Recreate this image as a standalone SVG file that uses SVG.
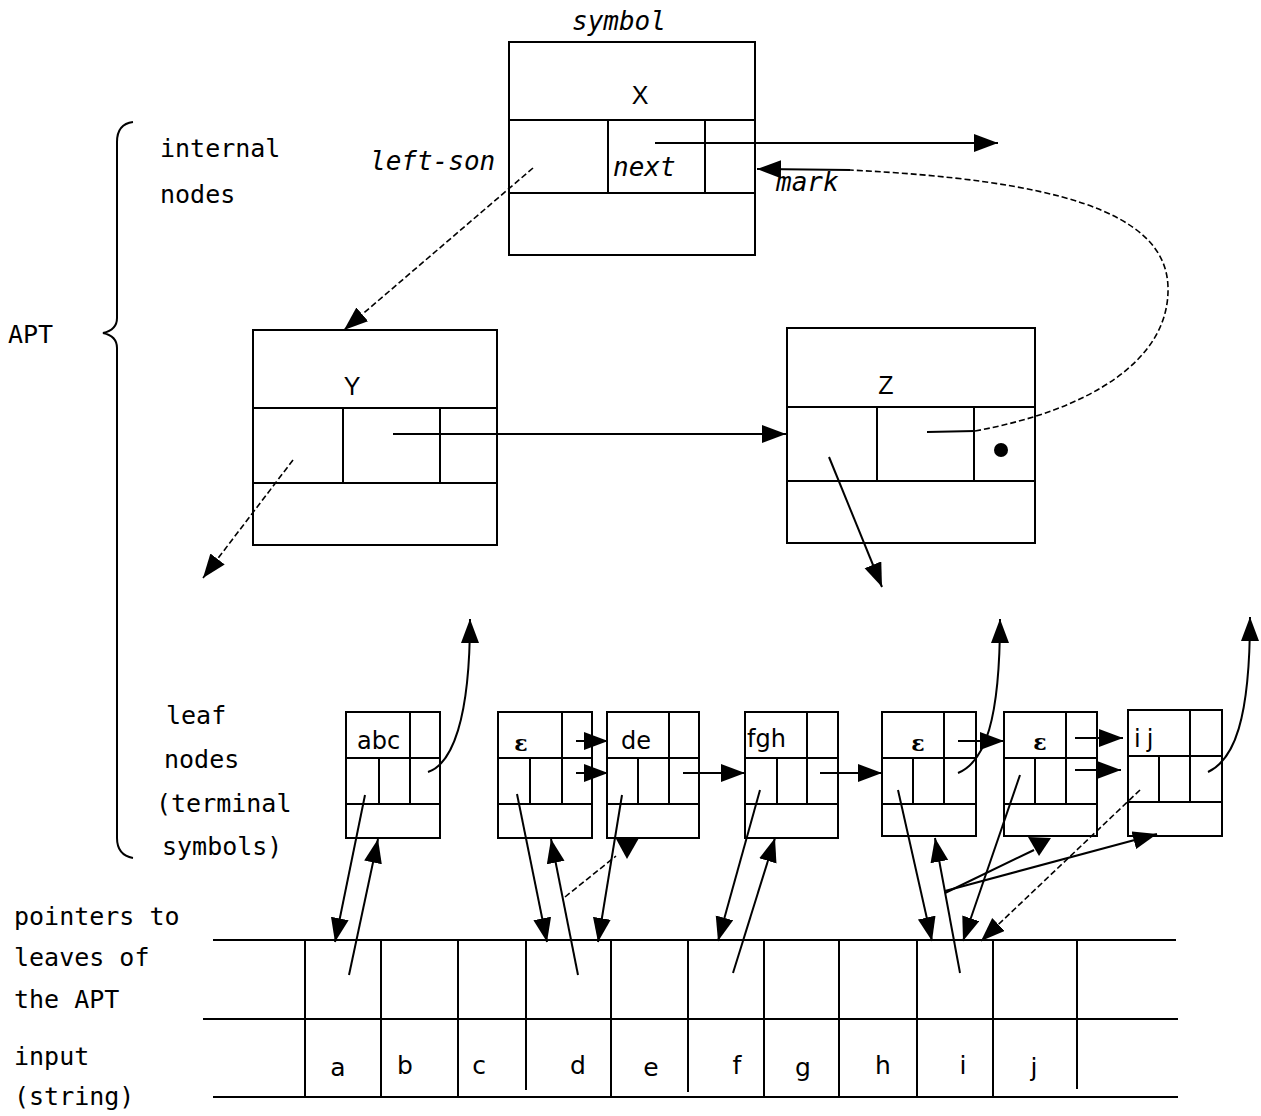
<svg xmlns="http://www.w3.org/2000/svg" width="1261" height="1116" viewBox="0 0 1261 1116">
<defs>
<marker id="ah" markerUnits="userSpaceOnUse" markerWidth="26" markerHeight="20" refX="24" refY="9" orient="auto">
<path d="M0,0 L24,9 L0,18 z" fill="#000"/>
</marker>
<style>
.box{fill:#fff;stroke:#000;stroke-width:2}
.ln{stroke:#000;stroke-width:2;fill:none}
.c{stroke:#000;stroke-width:2;fill:none}
.d{stroke:#000;stroke-width:1.6;fill:none;stroke-dasharray:6 3}
.lbl{font-family:"DejaVu Sans Mono",monospace;font-size:25px;fill:#000}
.it{font-family:"DejaVu Sans Mono",monospace;font-style:italic;font-size:26px;fill:#000}
.nm{font-family:"Liberation Sans",sans-serif;font-size:25px;fill:#000;text-anchor:middle}
.lf{font-family:"DejaVu Sans",sans-serif;font-size:24px;fill:#000}
.eps{font-family:"DejaVu Serif",serif;font-size:22px;font-weight:bold;fill:#000;text-anchor:middle}
.tb{font-family:"DejaVu Sans",sans-serif;font-size:25px;fill:#000;text-anchor:middle}
</style>
</defs>
<rect width="1261" height="1116" fill="#fff"/>

<g id="labels">
<text class="lbl" x="160" y="157">internal</text>
<text class="lbl" x="160" y="203">nodes</text>
<text class="lbl" x="8" y="343">APT</text>
<text class="lbl" x="166" y="724">leaf</text>
<text class="lbl" x="164" y="768">nodes</text>
<text class="lbl" x="156" y="812">(terminal</text>
<text class="lbl" x="162" y="855">symbols)</text>
<text class="lbl" x="14" y="925">pointers to</text>
<text class="lbl" x="14" y="966">leaves of</text>
<text class="lbl" x="14" y="1008">the APT</text>
<text class="lbl" x="14" y="1065">input</text>
<text class="lbl" x="14" y="1105">(string)</text>
<path class="ln" d="M133,122 Q117,124 117,142 L117,318 Q117,330 103,333 Q117,336 117,348 L117,838 Q117,855 133,858"/>
</g>

<g id="node-X">
<rect class="box" x="509" y="42" width="246" height="213"/>
<line class="ln" x1="509" y1="120" x2="755" y2="120"/>
<line class="ln" x1="509" y1="193" x2="755" y2="193"/>
<line class="ln" x1="608" y1="120" x2="608" y2="193"/>
<line class="ln" x1="705" y1="120" x2="705" y2="193"/>
<text class="nm" x="640" y="104">X</text>
<text class="it" x="572" y="30">symbol</text>
<text class="it" x="613" y="176">next</text>
<text class="it" x="370" y="170">left-son</text>
<text class="it" x="776" y="191">mark</text>
</g>

<g id="node-Y">
<rect class="box" x="253" y="330" width="244" height="215"/>
<line class="ln" x1="253" y1="408" x2="497" y2="408"/>
<line class="ln" x1="253" y1="483" x2="497" y2="483"/>
<line class="ln" x1="343" y1="408" x2="343" y2="483"/>
<line class="ln" x1="440" y1="408" x2="440" y2="483"/>
<text class="nm" x="352" y="395">Y</text>
</g>

<g id="node-Z">
<rect class="box" x="787" y="328" width="248" height="215"/>
<line class="ln" x1="787" y1="407" x2="1035" y2="407"/>
<line class="ln" x1="787" y1="481" x2="1035" y2="481"/>
<line class="ln" x1="877" y1="407" x2="877" y2="481"/>
<line class="ln" x1="974" y1="407" x2="974" y2="481"/>
<text class="nm" x="886" y="394">Z</text>
<circle cx="1001" cy="450" r="7" fill="#000"/>
</g>

<g id="leaf-abc">
<rect class="box" x="346" y="712" width="94" height="126"/>
<line class="ln" x1="346" y1="758" x2="440" y2="758"/>
<line class="ln" x1="346" y1="804" x2="440" y2="804"/>
<line class="ln" x1="410" y1="712" x2="410" y2="804"/>
<line class="ln" x1="379" y1="758" x2="379" y2="804"/>
<text class="lf" x="357" y="749">abc</text>
</g>
<g id="leaf-eps1">
<rect class="box" x="498" y="712" width="94" height="126"/>
<line class="ln" x1="498" y1="758" x2="592" y2="758"/>
<line class="ln" x1="498" y1="804" x2="592" y2="804"/>
<line class="ln" x1="562" y1="712" x2="562" y2="804"/>
<line class="ln" x1="530" y1="758" x2="530" y2="804"/>
<text class="eps" x="521" y="751">ε</text>
</g>
<g id="leaf-de">
<rect class="box" x="607" y="712" width="92" height="126"/>
<line class="ln" x1="607" y1="758" x2="699" y2="758"/>
<line class="ln" x1="607" y1="804" x2="699" y2="804"/>
<line class="ln" x1="669" y1="712" x2="669" y2="804"/>
<line class="ln" x1="638" y1="758" x2="638" y2="804"/>
<text class="lf" x="621" y="749">de</text>
</g>
<g id="leaf-fgh">
<rect class="box" x="745" y="712" width="93" height="126"/>
<line class="ln" x1="745" y1="758" x2="838" y2="758"/>
<line class="ln" x1="745" y1="804" x2="838" y2="804"/>
<line class="ln" x1="807" y1="712" x2="807" y2="804"/>
<line class="ln" x1="777" y1="758" x2="777" y2="804"/>
<text class="lf" x="747" y="747">fgh</text>
</g>
<g id="leaf-eps2">
<rect class="box" x="882" y="712" width="94" height="124"/>
<line class="ln" x1="882" y1="758" x2="976" y2="758"/>
<line class="ln" x1="882" y1="804" x2="976" y2="804"/>
<line class="ln" x1="944" y1="712" x2="944" y2="804"/>
<line class="ln" x1="913" y1="758" x2="913" y2="804"/>
<text class="eps" x="918" y="751">ε</text>
</g>
<g id="leaf-eps3">
<rect class="box" x="1004" y="712" width="93" height="124"/>
<line class="ln" x1="1004" y1="758" x2="1097" y2="758"/>
<line class="ln" x1="1004" y1="804" x2="1097" y2="804"/>
<line class="ln" x1="1066" y1="712" x2="1066" y2="804"/>
<line class="ln" x1="1035" y1="758" x2="1035" y2="804"/>
<text class="eps" x="1040" y="750">ε</text>
</g>
<g id="leaf-ij">
<rect class="box" x="1128" y="710" width="94" height="126"/>
<line class="ln" x1="1128" y1="756" x2="1222" y2="756"/>
<line class="ln" x1="1128" y1="802" x2="1222" y2="802"/>
<line class="ln" x1="1190" y1="710" x2="1190" y2="802"/>
<line class="ln" x1="1159" y1="756" x2="1159" y2="802"/>
<text class="lf" x="1134" y="747" letter-spacing="6">ij</text>
</g>

<g id="table">
<line class="ln" x1="213" y1="940" x2="1176" y2="940"/>
<line class="ln" x1="203" y1="1019" x2="1178" y2="1019"/>
<line class="ln" x1="213" y1="1097" x2="1178" y2="1097"/>
<line class="ln" x1="305" y1="940" x2="305" y2="1097"/>
<line class="ln" x1="381" y1="940" x2="381" y2="1097"/>
<line class="ln" x1="458" y1="940" x2="458" y2="1097"/>
<line class="ln" x1="526" y1="940" x2="526" y2="1090"/>
<line class="ln" x1="611" y1="940" x2="611" y2="1097"/>
<line class="ln" x1="688" y1="940" x2="688" y2="1092"/>
<line class="ln" x1="764" y1="940" x2="764" y2="1097"/>
<line class="ln" x1="839" y1="940" x2="839" y2="1097"/>
<line class="ln" x1="917" y1="940" x2="917" y2="1097"/>
<line class="ln" x1="993" y1="940" x2="993" y2="1097"/>
<line class="ln" x1="1077" y1="940" x2="1077" y2="1089"/>
<text class="tb" x="338" y="1076">a</text>
<text class="tb" x="405" y="1074">b</text>
<text class="tb" x="479" y="1074">c</text>
<text class="tb" x="578" y="1074">d</text>
<text class="tb" x="651" y="1076">e</text>
<text class="tb" x="737" y="1074">f</text>
<text class="tb" x="803" y="1076">g</text>
<text class="tb" x="883" y="1074">h</text>
<text class="tb" x="963" y="1074">i</text>
<text class="tb" x="1034" y="1076">j</text>
</g>

<g id="connectors">
<line class="c" x1="655" y1="143" x2="998" y2="143" marker-end="url(#ah)"/>
<line class="d" x1="533" y1="168" x2="344" y2="330" marker-end="url(#ah)"/>
<line class="c" x1="393" y1="434" x2="786" y2="434" marker-end="url(#ah)"/>
<line class="d" x1="293" y1="460" x2="203" y2="578" marker-end="url(#ah)"/>
<line class="c" x1="829" y1="457" x2="882" y2="587" marker-end="url(#ah)"/>
<line class="c" x1="927" y1="432" x2="975" y2="431"/>
<path class="d" d="M975,431 C1090,410 1170,360 1168,287 C1166,210 1050,180 850,170"/>
<line class="c" x1="850" y1="170" x2="757" y2="169" marker-end="url(#ah)"/>

<path class="c" d="M428,772 C452,764 470,720 470,619" marker-end="url(#ah)"/>
<path class="c" d="M958,773 C985,762 1000,720 1000,619" marker-end="url(#ah)"/>
<path class="c" d="M1208,772 C1234,760 1250,720 1250,617" marker-end="url(#ah)"/>

<line class="c" x1="576" y1="741" x2="608" y2="741" marker-end="url(#ah)"/>
<line class="c" x1="576" y1="773" x2="608" y2="773" marker-end="url(#ah)"/>
<line class="c" x1="683" y1="773" x2="745" y2="773" marker-end="url(#ah)"/>
<line class="c" x1="820" y1="773" x2="882" y2="773" marker-end="url(#ah)"/>
<line class="c" x1="958" y1="741" x2="1004" y2="741" marker-end="url(#ah)"/>
<line class="c" x1="1075" y1="738" x2="1123" y2="738" marker-end="url(#ah)"/>
<line class="c" x1="1075" y1="770" x2="1121" y2="770" marker-end="url(#ah)"/>

<line class="c" x1="365" y1="795" x2="335" y2="942" marker-end="url(#ah)"/>
<line class="c" x1="349" y1="975" x2="378" y2="839" marker-end="url(#ah)"/>
<line class="c" x1="517" y1="794" x2="547" y2="942" marker-end="url(#ah)"/>
<line class="c" x1="578" y1="975" x2="551" y2="839" marker-end="url(#ah)"/>
<line class="c" x1="622" y1="795" x2="598" y2="942" marker-end="url(#ah)"/>
<line class="d" x1="565" y1="897" x2="616" y2="856"/>
<polygon points="615,837 639,838 627,859" fill="#000"/>
<line class="c" x1="760" y1="790" x2="718" y2="941" marker-end="url(#ah)"/>
<line class="c" x1="733" y1="973" x2="775" y2="838" marker-end="url(#ah)"/>
<line class="c" x1="898" y1="790" x2="932" y2="941" marker-end="url(#ah)"/>
<line class="c" x1="960" y1="973" x2="935" y2="838" marker-end="url(#ah)"/>
<line class="c" x1="1020" y1="775" x2="963" y2="941" marker-end="url(#ah)"/>
<line class="d" x1="1140" y1="790" x2="981" y2="941" marker-end="url(#ah)"/>
<line class="c" stroke-width="1.6" x1="945" y1="893" x2="1034" y2="850"/>
<polygon points="1028,837 1051,838 1039,856" fill="#000"/>
<line class="c" stroke-width="1.6" x1="945" y1="891" x2="1157" y2="834" marker-end="url(#ah)"/>
</g>
</svg>
